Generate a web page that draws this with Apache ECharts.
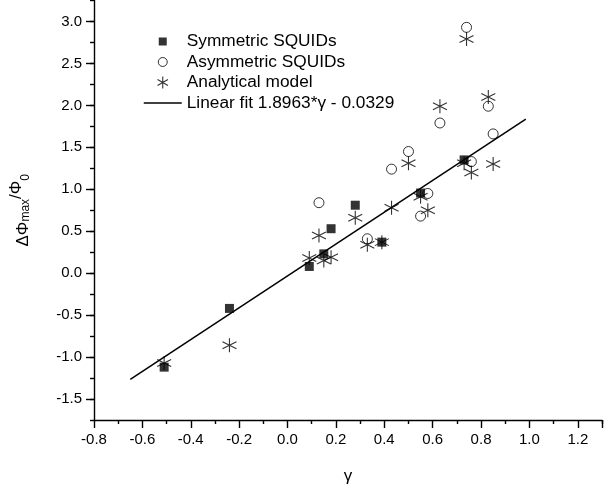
<!DOCTYPE html>
<html>
<head>
<meta charset="utf-8">
<script src="https://cdn.jsdelivr.net/npm/echarts@6/dist/echarts.min.js"></script>
<style>
  html, body { margin: 0; padding: 0; background: #fff; }
  #chart { width: 605px; height: 491px; }
</style>
</head>
<body>
<div id="chart"></div>
<script>
// Symmetric SQUIDs (filled squares)
const symX = [-0.51, -0.24, 0.09, 0.15, 0.18, 0.28, 0.39, 0.55, 0.73]
const symY = [-1.12, -0.42, 0.08, 0.23, 0.53, 0.81, 0.37, 0.955, 1.35]

// Asymmetric SQUIDs (open circles)
const asymX = [0.13, 0.33, 0.43, 0.50, 0.55, 0.58, 0.63, 0.74, 0.76, 0.83, 0.85]
const asymY = [0.84, 0.41, 1.24, 1.45, 0.68, 0.95, 1.79, 2.93, 1.33, 1.99, 1.66]

// Analytical model (asterisks)
const modX = [-0.51, -0.24, 0.09, 0.13, 0.15, 0.18, 0.28, 0.33, 0.39, 0.43, 0.50, 0.55, 0.58, 0.63, 0.73, 0.74, 0.76, 0.83, 0.85]
const modY = [-1.07, -0.86, 0.18, 0.45, 0.15, 0.19, 0.66, 0.34, 0.37, 0.78, 1.31, 0.91, 0.75, 1.99, 1.31, 2.79, 1.20, 2.10, 1.30]

// Linear fit endpoints
const fitX = [-0.65, 0.985]
const fitY = [-1.266, 1.835]

// y tick labels
const yTicks = [-1.5, -1.0, -0.5, 0.0, 0.5, 1.0, 1.5, 2.0, 2.5, 3.0]

const zip = (xs, ys) => xs.map((x, i) => [x, ys[i]])

const asterisk = 'path://M0,-10L0,10M-8.66,-5L8.66,5M-8.66,5L8.66,-5'
// legend icons padded with invisible extents so they keep their relative sizes
const legSquare = 'path://M-7,-7M7,7M-4,-4L4,-4L4,4L-4,4Z'
const legCircle = 'path://M-7,-7M7,7M4.5,0A4.5,4.5,0,1,1,-4.5,0A4.5,4.5,0,1,1,4.5,0Z'
const legStar = 'path://M-7,-7M7,7M0,-6L0,6M-5.2,-3L5.2,3M-5.2,3L5.2,-3'
const legLine = 'path://M-19,-7M19,7M-19,0L19,0'
const font = 'Liberation Sans, Arial, sans-serif'
const axisStyle = { color: '#000', width: 1.4 }

const chart = echarts.init(document.getElementById('chart'))
chart.setOption({
  animation: false,
  grid: { left: 94, top: 0.5, right: -3.5, bottom: 71, containLabel: false },
  legend: {
    orient: 'vertical',
    left: 143,
    top: 33,
    padding: 0,
    itemWidth: 38,
    itemHeight: 14,
    itemGap: 3.5,
    textStyle: { fontFamily: font, fontSize: 17.3, color: '#000' },
    data: [
      { name: 'Symmetric SQUIDs', icon: legSquare, itemStyle: { color: '#000', borderWidth: 0 } },
      { name: 'Asymmetric SQUIDs', icon: legCircle, itemStyle: { color: 'rgba(0,0,0,0)', borderColor: '#000', borderWidth: 1 } },
      { name: 'Analytical model', icon: legStar, itemStyle: { color: 'rgba(0,0,0,0)', borderColor: '#000', borderWidth: 1.1 } },
      { name: 'Linear fit 1.8963*γ - 0.0329', icon: legLine, itemStyle: { color: 'rgba(0,0,0,0)', borderColor: '#000', borderWidth: 1.5 } }
    ]
  },
  xAxis: {
    type: 'value',
    min: -0.8,
    max: 1.3,
    interval: 0.2,
    name: 'γ',
    nameLocation: 'middle',
    nameGap: 48,
    nameTextStyle: { fontFamily: font, fontSize: 17, color: '#000' },
    axisLine: { onZero: false, lineStyle: axisStyle },
    axisTick: { inside: false, length: 8, lineStyle: axisStyle },
    minorTick: { show: true, splitNumber: 2, length: 4, lineStyle: axisStyle },
    splitLine: { show: false },
    axisLabel: {
      margin: 12,
      fontFamily: font,
      fontSize: 15,
      color: '#000',
      formatter: v => (v > 1.25 ? '' : v.toFixed(1))
    }
  },
  yAxis: [
    {
      type: 'value',
      min: -1.75,
      max: 3.25,
      interval: 0.25,
      name: '{a|ΔΦ}{s|max}{b|/Φ}{s|0}',
      nameLocation: 'middle',
      nameRotate: 90,
      nameGap: 62,
      nameTextStyle: {
        fontFamily: font,
        color: '#000',
        rich: {
          a: { fontFamily: font, fontSize: 17, color: '#000', verticalAlign: 'bottom', lineHeight: 24 },
          b: { fontFamily: font, fontSize: 17, color: '#000', verticalAlign: 'top', lineHeight: 24 },
          s: { fontFamily: font, fontSize: 12, color: '#000', verticalAlign: 'bottom', lineHeight: 24 }
        }
      },
      axisLine: { onZero: false, lineStyle: axisStyle },
      axisTick: { inside: false, length: 8, lineStyle: axisStyle, customValues: yTicks },
      splitLine: { show: false },
      axisLabel: {
        margin: 12,
        fontFamily: font,
        fontSize: 15,
        color: '#000',
        customValues: yTicks,
        formatter: v => v.toFixed(1)
      }
    },
    {
      // minor ticks only
      type: 'value',
      position: 'left',
      offset: 0,
      min: -1.75,
      max: 3.25,
      interval: 0.25,
      axisLine: { show: false, onZero: false },
      axisTick: { show: true, inside: false, length: 4, lineStyle: axisStyle },
      axisLabel: { show: false },
      splitLine: { show: false }
    }
  ],
  series: [
    {
      name: 'Symmetric SQUIDs',
      type: 'scatter',
      symbol: 'rect',
      symbolSize: 9,
      itemStyle: { color: '#000' },
      data: zip(symX, symY),
      z: 4
    },
    {
      name: 'Asymmetric SQUIDs',
      type: 'scatter',
      symbol: 'circle',
      symbolSize: 10,
      itemStyle: { color: 'rgba(0,0,0,0)', borderColor: '#000', borderWidth: 1 },
      data: zip(asymX, asymY),
      z: 3
    },
    {
      name: 'Analytical model',
      type: 'scatter',
      symbol: asterisk,
      symbolSize: 14,
      itemStyle: { color: 'rgba(0,0,0,0)', borderColor: '#000', borderWidth: 1.1 },
      data: zip(modX, modY),
      z: 5
    },
    {
      name: 'Linear fit 1.8963*γ - 0.0329',
      type: 'line',
      symbol: 'none',
      lineStyle: { color: '#000', width: 1.5 },
      itemStyle: { color: '#000' },
      data: zip(fitX, fitY),
      z: 2
    }
  ]
})
</script>
</body>
</html>
